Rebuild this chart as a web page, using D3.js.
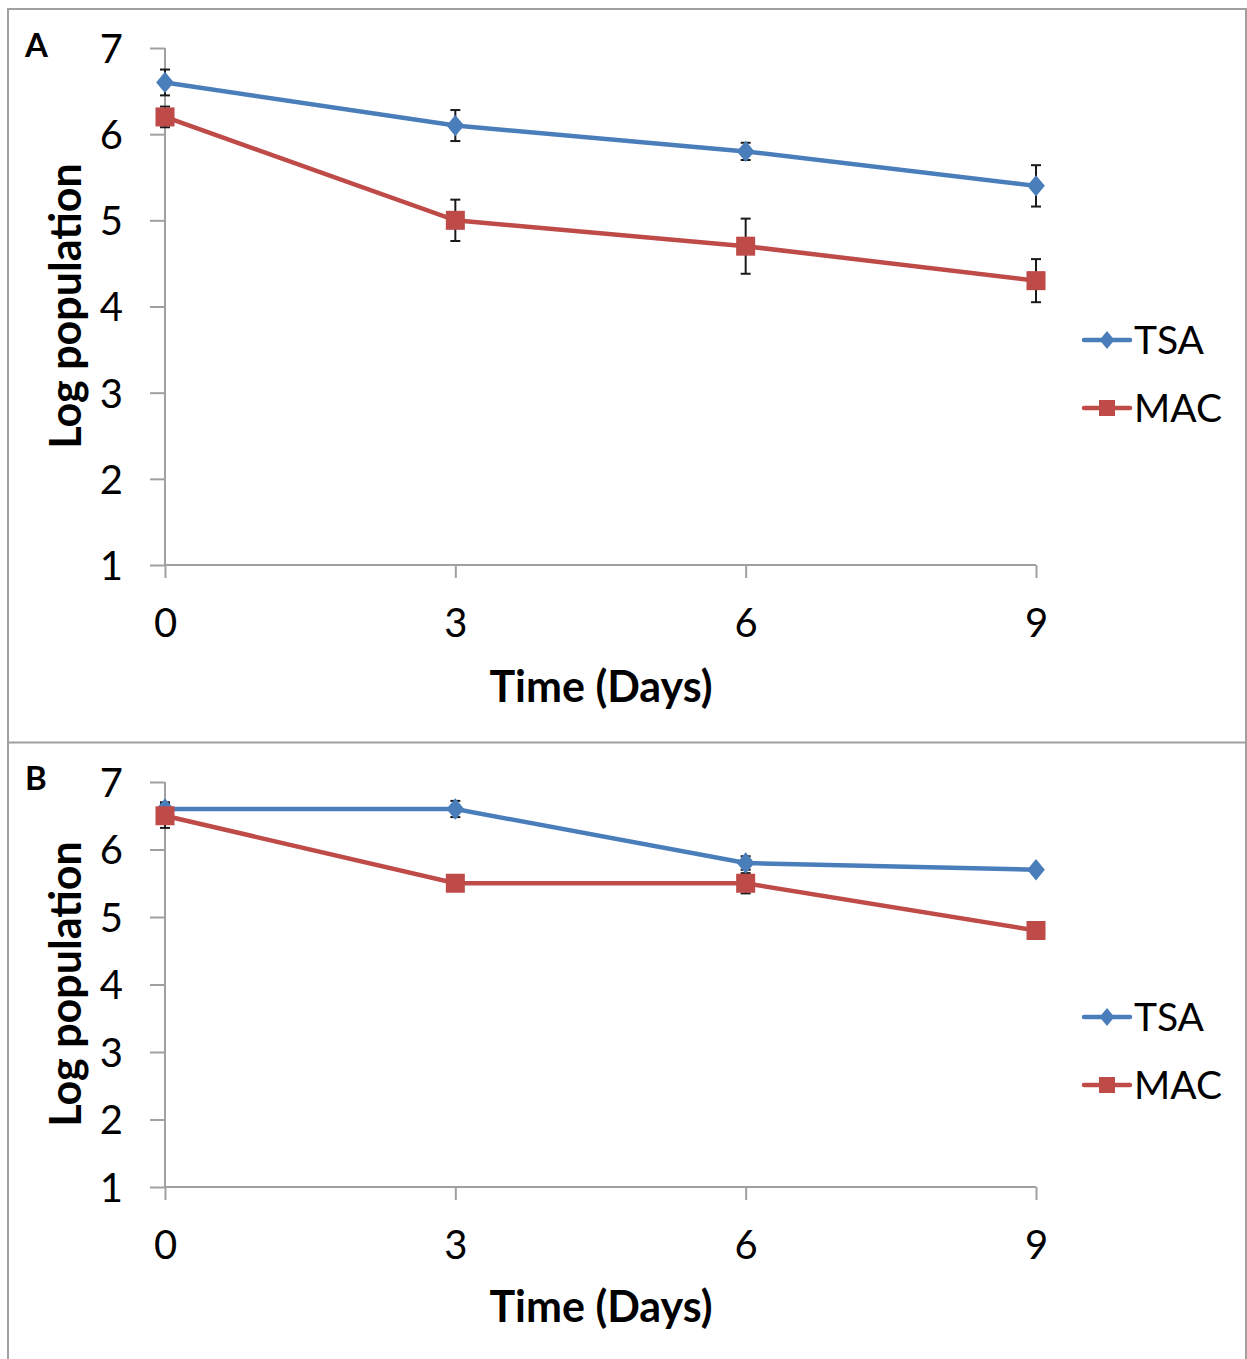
<!DOCTYPE html>
<html><head><meta charset="utf-8">
<script src="https://cdn.jsdelivr.net/npm/d3@7"></script>
<style>body{margin:0;background:#fff}svg{display:block}text{font-family:Lato,"Open Sans",sans-serif}</style>
</head><body>
<svg id="c" width="1247" height="1359"></svg>
<script>
const days = [0, 3, 6, 9];
const yTicks = [1, 2, 3, 4, 5, 6, 7];
const seriesNames = ["TSA", "MAC"];
const tsaA = [6.6, 6.1, 5.8, 5.4];
const tsaAErr = [0.15, 0.18, 0.1, 0.24];
const macA = [6.2, 5.0, 4.7, 4.3];
const macAErr = [0.12, 0.24, 0.32, 0.25];
const tsaB = [6.6, 6.6, 5.8, 5.7];
const tsaBErr = [0.1, 0.12, 0.1, 0.03];
const macB = [6.5, 5.5, 5.5, 4.8];
const macBErr = [0.18, 0.05, 0.15, 0.0];

const colors = {TSA: "#4a7ebb", MAC: "#be4b48"};
const svg = d3.select("#c");
const gray = "#a0a0a0";

// frame
svg.append("rect").attr("x", 8).attr("y", 9).attr("width", 1238).attr("height", 1360)
  .attr("fill", "none").attr("stroke", gray).attr("stroke-width", 2);
svg.append("line").attr("x1", 8).attr("x2", 1246).attr("y1", 742.5).attr("y2", 742.5)
  .attr("stroke", gray).attr("stroke-width", 2);

function panel(opt) {
  const x = d3.scaleLinear().domain([0, 9]).range([165, 1036]);
  const y = d3.scaleLinear().domain([1, 7]).range([opt.y1, opt.y7]);
  const g = svg.append("g");
  // y axis
  const ya = g.append("g").attr("transform", "translate(165,0)")
    .call(d3.axisLeft(y).tickValues(yTicks).tickSize(15).tickPadding(27).tickFormat(d3.format("d")));
  ya.select(".domain").remove();
  ya.selectAll(".tick line").attr("stroke", gray).attr("stroke-width", 2);
  ya.selectAll(".tick text").attr("font-size", 40).attr("fill", "#000").attr("font-family", "Lato").attr("dy", "0.36em");
  g.append("line").attr("x1", 165).attr("x2", 165).attr("y1", y(7)).attr("y2", y(1))
    .attr("stroke", gray).attr("stroke-width", 2);
  // x axis
  const xa = g.append("g").attr("transform", `translate(0,${y(1)})`)
    .call(d3.axisBottom(x).tickValues(days).tickSize(13).tickPadding(31).tickFormat(d3.format("d")));
  xa.select(".domain").remove();
  xa.selectAll(".tick line").attr("stroke", gray).attr("stroke-width", 2);
  xa.selectAll(".tick text").attr("font-size", 40).attr("fill", "#000").attr("font-family", "Lato");
  g.append("line").attr("x1", 165).attr("x2", 1036).attr("y1", y(1)).attr("y2", y(1))
    .attr("stroke", gray).attr("stroke-width", 2);

  // titles
  g.append("text").attr("x", 601).attr("y", opt.xTitleY).attr("text-anchor", "middle")
    .attr("font-size", 43).attr("font-weight", "bold").text("Time (Days)");
  g.append("text").attr("transform", `translate(81,${opt.yTitleC}) rotate(-90)`).attr("text-anchor", "middle")
    .attr("font-size", 43).attr("font-weight", "bold").text("Log population");
  g.append("text").attr("x", 25).attr("y", opt.labelY).attr("font-size", 33).attr("font-weight", "bold").text(opt.label);

  const series = [{name: "TSA", v: opt.tsa, e: opt.tsaErr}, {name: "MAC", v: opt.mac, e: opt.macErr}];
  const line = d3.line().x((d, i) => x(days[i])).y(d => y(d));
  // error bars
  series.forEach(s => {
    s.v.forEach((v, i) => {
      if (s.e[i] <= 0) return;
      const cx = x(days[i]), t = y(v + s.e[i]), b = y(v - s.e[i]);
      const eg = g.append("g").attr("stroke", "#1a1a1a").attr("stroke-width", 2);
      eg.append("line").attr("x1", cx).attr("x2", cx).attr("y1", t).attr("y2", b);
      eg.append("line").attr("x1", cx - 5).attr("x2", cx + 5).attr("y1", t).attr("y2", t);
      eg.append("line").attr("x1", cx - 5).attr("x2", cx + 5).attr("y1", b).attr("y2", b);
    });
  });
  series.forEach(s => {
    g.append("path").attr("d", line(s.v)).attr("fill", "none").attr("stroke", colors[s.name]).attr("stroke-width", 4.5);
  });
  series.forEach(s => {
    s.v.forEach((v, i) => {
      const cx = x(days[i]), cy = y(v);
      if (s.name === "TSA") {
        g.append("path").attr("d", d3.symbol(d3.symbolDiamond2, 200)()).attr("transform", `translate(${cx},${cy}) scale(1,1.2)`)
          .attr("fill", colors.TSA);
      } else {
        g.append("rect").attr("x", cx - 9.5).attr("y", cy - 9.5).attr("width", 19).attr("height", 19).attr("fill", colors.MAC);
      }
    });
  });
  // legend
  seriesNames.forEach((n, i) => {
    const ly = opt.legY + i * 68;
    g.append("line").attr("x1", 1084).attr("x2", 1130).attr("y1", ly).attr("y2", ly)
      .attr("stroke", colors[n]).attr("stroke-width", 4.5).attr("stroke-linecap", "round");
    if (n === "TSA") {
      g.append("path").attr("d", d3.symbol(d3.symbolDiamond2, 140)()).attr("transform", `translate(1107,${ly}) scale(1,1.2)`).attr("fill", colors.TSA);
    } else {
      g.append("rect").attr("x", 1099).attr("y", ly - 8).attr("width", 16).attr("height", 16).attr("fill", colors.MAC);
    }
    g.append("text").attr("x", 1134).attr("y", ly).attr("dy", "0.36em").attr("font-size", 39).text(n);
  });
}

panel({y1: 565, y7: 48, tsa: tsaA, tsaErr: tsaAErr, mac: macA, macErr: macAErr,
  xTitleY: 702, yTitleC: 306, label: "A", labelY: 57, legY: 340});
panel({y1: 1187, y7: 782, tsa: tsaB, tsaErr: tsaBErr, mac: macB, macErr: macBErr,
  xTitleY: 1322, yTitleC: 984, label: "B", labelY: 790, legY: 1017});
</script>
</body></html>
